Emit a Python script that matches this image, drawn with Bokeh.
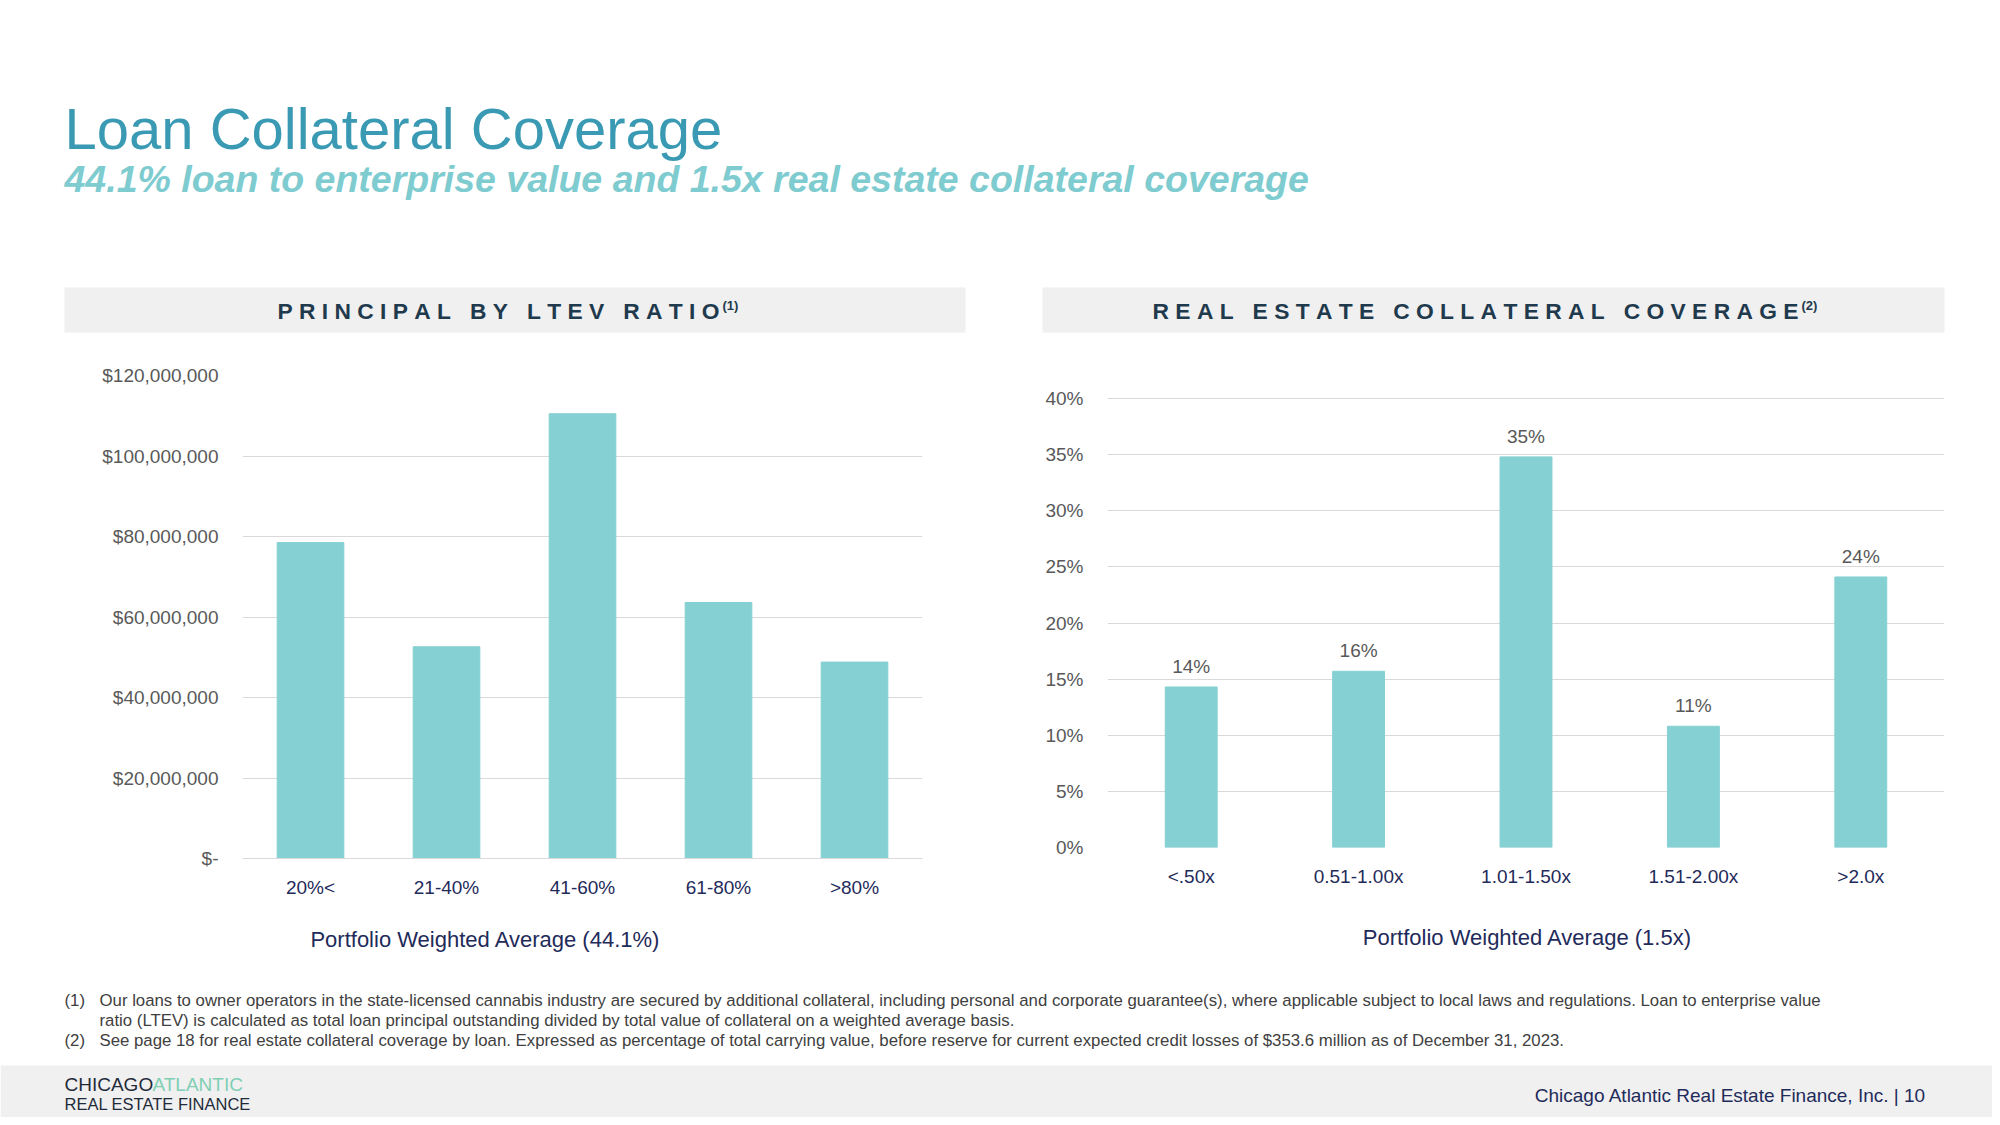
from bokeh.plotting import figure
from bokeh.layouts import column, row
from bokeh.models import Range1d, FactorRange, NumeralTickFormatter
from bokeh.core.properties import value
from bokeh.embed import file_html
from bokeh.resources import INLINE

# data
ltev_cats = ["20%<", "21-40%", "41-60%", "61-80%", ">80%"]
ltev_principal = [78.5e6, 52.6e6, 110.5e6, 63.6e6, 48.8e6]
ltev_ticks = [0, 20e6, 40e6, 60e6, 80e6, 100e6, 120e6]

re_cats = ["<.50x", "0.51-1.00x", "1.01-1.50x", "1.51-2.00x", ">2.0x"]
re_share = [0.143, 0.157, 0.348, 0.108, 0.241]
re_labels = ["14%", "16%", "35%", "11%", "24%"]
re_ticks = [0, 0.05, 0.10, 0.15, 0.20, 0.25, 0.30, 0.35, 0.40]

FONT = "Liberation Sans"
BAR = "#85d0d2"
GRID = "#d9d9d9"
TICK = "#595959"
NAVY = "#1f2b5a"
W = 1992
NB = "\u00a0"


def canvas(h):
    f = figure(width=W, height=h, x_range=Range1d(0, W), y_range=Range1d(h, 0),
               output_backend="svg", toolbar_location=None, min_border=0)
    f.axis.visible = False
    f.grid.visible = False
    f.outline_line_color = None
    return f


def txt(f, x, y, s, size, color, style="normal", align="left", base="middle"):
    f.text([x], [y], text=[s], text_font=value(FONT), text_font_size=f"{size}px",
           text_color=color, text_font_style=style, text_align=align, text_baseline=base)


def spaced(words):
    return (NB * 3).join(NB.join(w) for w in words)


# top area
top = canvas(335)
txt(top, 64, 128, "Loan Collateral Coverage", 58, "#3a9ab3")
txt(top, 64, 178, "44.1% loan to enterprise value and 1.5x real estate collateral coverage",
    37.5, "#7ecbd0", "bold italic")
top.quad(left=[64, 1042], right=[965, 1944], top=[287, 287], bottom=[332, 332],
         fill_color="#f0f0f0", line_color=None)
txt(top, 719, 310, spaced(["PRINCIPAL", "BY", "LTEV", "RATIO"]), 22.8, "#1f3a4d", "bold", "right")
txt(top, 722, 305, "(1)", 13, "#1f3a4d", "bold")
txt(top, 1798, 310, spaced(["REAL", "ESTATE", "COLLATERAL", "COVERAGE"]), 22.8, "#1f3a4d", "bold", "right")
txt(top, 1801, 305, "(2)", 13, "#1f3a4d", "bold")


def style(p):
    p.title.visible = False
    p.outline_line_color = None
    p.xgrid.visible = False
    p.ygrid.grid_line_color = GRID
    p.yaxis.axis_line_color = None
    p.axis.major_tick_line_color = None
    p.axis.minor_tick_line_color = None
    p.axis.major_label_text_font = FONT
    p.axis.major_label_text_font_size = "19px"
    p.axis.major_label_text_color = TICK
    p.xaxis.major_label_text_color = NAVY
    p.yaxis.major_label_standoff = 18
    p.xaxis.major_label_standoff = 12


# left chart
p1 = figure(frame_width=680, frame_height=483, x_range=FactorRange(*ltev_cats), y_range=Range1d(0, 120e6),
            output_backend="svg", toolbar_location=None,
            min_border_left=242, min_border_right=78, min_border_top=40, min_border_bottom=57)
p1.vbar(x=ltev_cats, top=ltev_principal, width=0.49, color=BAR)
style(p1)
p1.yaxis.ticker = ltev_ticks
p1.yaxis.formatter = NumeralTickFormatter(format="$0,0")
p1.yaxis.major_label_overrides = {0: "$-"}
p1.xaxis.axis_line_color = GRID

# right chart (frame top aligned with the left one; range extends above 40%)
p2 = figure(frame_width=837, frame_height=472, x_range=FactorRange(*re_cats), y_range=Range1d(0, 0.4205),
            output_backend="svg", toolbar_location=None,
            min_border_left=107, min_border_right=48, min_border_top=40, min_border_bottom=68)
p2.vbar(x=re_cats, top=re_share, width=0.31, color=BAR)
p2.text(x=re_cats, y=re_share, text=re_labels, text_align="center", text_baseline="bottom",
        y_offset=-10, text_font=value(FONT), text_font_size="19px", text_color=TICK)
style(p2)
p2.yaxis.ticker = re_ticks
p2.yaxis.formatter = NumeralTickFormatter(format="0%")
p2.xaxis.axis_line_color = None

# bottom area
bot = canvas(202)
txt(bot, 485, 24, "Portfolio Weighted Average (44.1%)", 22, NAVY, align="center")
txt(bot, 1527, 22, "Portfolio Weighted Average (1.5x)", 22, NAVY, align="center")
fn = "#404040"
fs = 16.8
txt(bot, 64, 85, "(1)", fs, fn)
txt(bot, 99, 85, "Our loans to owner operators in the state-licensed cannabis industry are secured by additional collateral, "
    "including personal and corporate guarantee(s), where applicable subject to local laws and regulations. Loan to enterprise value", fs, fn)
txt(bot, 99, 105, "ratio (LTEV) is calculated as total loan principal outstanding divided by total value of collateral on a weighted average basis.", fs, fn)
txt(bot, 64, 125, "(2)", fs, fn)
txt(bot, 99, 125, "See page 18 for real estate collateral coverage by loan. Expressed as percentage of total carrying value, "
    "before reserve for current expected credit losses of $353.6 million as of December 31, 2023.", fs, fn)
bot.quad(left=[0], right=[W], top=[150], bottom=[202], fill_color="#f0f0f0", line_color=None)
txt(bot, 64, 169, "CHICAGO", 19, "#1f2b3a")
txt(bot, 152, 169, "ATLANTIC", 19, "#7fcfb5")
txt(bot, 64, 188, "REAL ESTATE FINANCE", 16.5, "#1f2b3a")
txt(bot, 1931, 180, "Chicago Atlantic Real Estate Finance, Inc. |  10", 19, NAVY, align="right")

layout = column(top, row(p1, p2, spacing=0), bot, spacing=0)
open("out.html", "w").write(file_html(layout, INLINE))
